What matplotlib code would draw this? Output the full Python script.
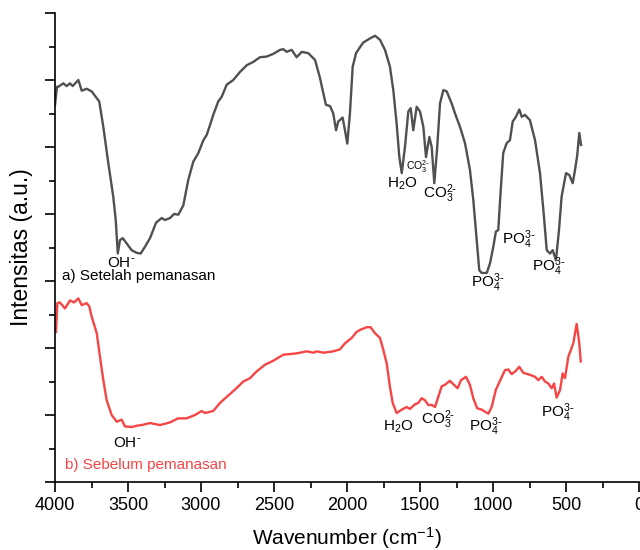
import matplotlib
matplotlib.use("Agg")
import matplotlib.pyplot as plt
from matplotlib.ticker import MultipleLocator

plt.rcParams['font.family'] = ['Liberation Sans', 'DejaVu Sans']
plt.rcParams['mathtext.default'] = 'regular'

# Spectrum a) Setelah pemanasan (after heating)
wn_a = [4000, 3986, 3977, 3943, 3920, 3897, 3879, 3840, 3817, 3783, 3749, 3714, 3697, 3669, 3635,
        3601, 3584, 3570, 3555, 3536, 3509, 3475, 3440, 3413, 3384, 3349, 3308, 3269, 3247, 3212,
        3185, 3155, 3121, 3087, 3053, 3018, 2984, 2961, 2938, 2916, 2882, 2858, 2824, 2779, 2733,
        2687, 2642, 2596, 2550, 2505, 2459, 2436, 2413, 2379, 2345, 2310, 2265, 2219, 2185, 2162,
        2144, 2116, 2094, 2075, 2060, 2030, 2014, 1998, 1980, 1961, 1938, 1911, 1888, 1843, 1808,
        1774, 1740, 1706, 1683, 1660, 1642, 1625, 1603, 1580, 1564, 1546, 1523, 1500, 1477, 1459,
        1436, 1420, 1402, 1382, 1363, 1340, 1317, 1283, 1260, 1226, 1192, 1158, 1135, 1112, 1094,
        1077, 1043, 1021, 998, 980, 964, 947, 930, 906, 884, 865, 843, 820, 803, 781, 747, 712,
        678, 651, 632, 610, 591, 569, 548, 530, 500, 477, 454, 438, 423, 409, 397]
int_a = [5.63, 5.90, 5.90, 5.95, 5.91, 5.95, 5.91, 6.00, 5.84, 5.87, 5.83, 5.73, 5.68, 5.30, 4.76,
         4.26, 3.91, 3.41, 3.61, 3.64, 3.56, 3.46, 3.42, 3.41, 3.51, 3.64, 3.87, 3.94, 3.91, 3.94,
         4.00, 3.99, 4.13, 4.51, 4.78, 4.91, 5.10, 5.18, 5.33, 5.48, 5.68, 5.75, 5.93, 6.00, 6.12,
         6.22, 6.27, 6.34, 6.35, 6.39, 6.45, 6.46, 6.42, 6.45, 6.34, 6.42, 6.40, 6.30, 6.03, 5.80,
         5.63, 5.61, 5.50, 5.25, 5.38, 5.44, 5.25, 5.05, 5.50, 6.20, 6.40, 6.49, 6.56, 6.62, 6.66,
         6.60, 6.45, 6.20, 5.85, 5.35, 4.86, 4.61, 5.00, 5.53, 5.58, 5.25, 5.60, 5.53, 5.30, 4.85,
         5.15, 5.00, 4.46, 5.00, 5.65, 5.85, 5.83, 5.65, 5.50, 5.30, 5.06, 4.66, 4.21, 3.61, 3.16,
         3.12, 3.12, 3.26, 3.51, 3.74, 3.76, 4.36, 4.91, 5.06, 5.10, 5.38, 5.45, 5.56, 5.45, 5.48, 5.40, 5.10,
         4.61, 3.96, 3.46, 3.41, 3.46, 3.31, 3.76, 4.26, 4.61, 4.58, 4.46, 4.66, 4.88, 5.21, 5.03]

# Spectrum b) Sebelum pemanasan (before heating)
wn_b = [3993, 3984, 3966, 3932, 3897, 3870, 3840, 3817, 3783, 3765, 3749, 3714, 3692, 3669, 3646,
        3612, 3577, 3543, 3521, 3475, 3440, 3406, 3349, 3281, 3212, 3156, 3098, 3041, 2995, 2973,
        2916, 2870, 2824, 2767, 2710, 2664, 2619, 2562, 2505, 2436, 2390, 2345, 2276, 2231, 2208,
        2162, 2094, 2048, 2014, 1968, 1934, 1911, 1865, 1838, 1808, 1774, 1751, 1728, 1706, 1687,
        1660, 1625, 1591, 1569, 1534, 1512, 1488, 1466, 1443, 1420, 1397, 1375, 1351, 1329, 1295,
        1272, 1242, 1219, 1185, 1158, 1135, 1108, 1077, 1055, 1032, 1009, 980, 952, 918, 895, 872,
        843, 820, 793, 747, 712, 690, 666, 644, 621, 598, 582, 564, 541, 523, 507, 484, 450, 427,
        409, 399]
int_b = [2.24, 2.67, 2.68, 2.59, 2.71, 2.68, 2.74, 2.64, 2.67, 2.62, 2.47, 2.22, 1.87, 1.52, 1.22,
         1.00, 0.90, 0.93, 0.83, 0.82, 0.84, 0.85, 0.88, 0.85, 0.89, 0.95, 0.95, 1.00, 1.06, 1.03,
         1.06, 1.18, 1.27, 1.38, 1.50, 1.55, 1.65, 1.75, 1.81, 1.90, 1.91, 1.92, 1.95, 1.93, 1.95,
         1.93, 1.95, 1.98, 2.07, 2.15, 2.24, 2.27, 2.31, 2.31, 2.22, 2.15, 1.97, 1.77, 1.42, 1.18,
         1.03, 1.08, 1.12, 1.09, 1.16, 1.18, 1.25, 1.22, 1.15, 1.15, 1.12, 1.27, 1.43, 1.45, 1.51,
         1.46, 1.40, 1.52, 1.57, 1.45, 1.25, 1.10, 1.08, 1.05, 1.02, 1.12, 1.38, 1.51, 1.67, 1.68, 1.61,
         1.66, 1.72, 1.63, 1.60, 1.57, 1.52, 1.57, 1.50, 1.47, 1.40, 1.47, 1.26, 1.37, 1.62, 1.55, 1.87,
         2.07, 2.36, 2.07, 1.80]

x_ticks = [4000, 3500, 3000, 2500, 2000, 1500, 1000, 500, 0]

gray = '#505050'
red = '#f54545'

fig = plt.figure(figsize=(6.4, 5.5), dpi=100)
ax = fig.add_axes([55/640, (550-482)/550, (639-55)/640, (482-13)/550])

ax.plot(wn_a, int_a, color=gray, lw=1.7)
ax.plot(wn_b, int_b, color=red, lw=1.7)

ax.set_xlim(4000, 0)
ax.set_ylim(0, 7)
ax.set_xticks(x_ticks)
ax.set_xticklabels([str(t) for t in x_ticks])
ax.xaxis.set_minor_locator(MultipleLocator(250))
ax.yaxis.set_major_locator(MultipleLocator(1))
ax.yaxis.set_minor_locator(MultipleLocator(0.5))
ax.tick_params(axis='both', which='major', direction='out', length=7, width=1.2, labelsize=13)
ax.tick_params(axis='both', which='minor', direction='out', length=4, width=1.2)
ax.tick_params(axis='y', which='both', labelleft=False)
for s in ['top', 'right']:
    ax.spines[s].set_visible(False)
for s in ['left', 'bottom']:
    ax.spines[s].set_linewidth(1.2)

ax.set_xlabel('Wavenumber (cm$^{-1}$)', fontsize=15, labelpad=8)
ax.set_ylabel('Intensitas (a.u.)', fontsize=16.5)
ax.yaxis.set_label_coords(-0.038, 0.5)

fs = 11
po4 = r'PO$_4^{3\text{-}}$'
co3 = r'CO$_3^{2\text{-}}$'
oh = r'OH$^{\text{-}}$'
h2o = r'H$_2$O'
# annotations for a)
ax.text(3548, 3.27, oh, fontsize=fs, ha='center', va='center')
ax.text(3952, 3.07, 'a) Setelah pemanasan', fontsize=fs, ha='left', va='center', color='black')
ax.text(1623, 4.45, h2o, fontsize=fs, ha='center', va='center')
ax.text(1514, 4.70, co3, fontsize=7.5, ha='center', va='center')
ax.text(1363, 4.31, co3, fontsize=fs, ha='center', va='center')
ax.text(1034, 2.97, po4, fontsize=fs, ha='center', va='center')
ax.text(822, 3.61, po4, fontsize=fs, ha='center', va='center')
ax.text(616, 3.21, po4, fontsize=fs, ha='center', va='center')
# annotations for b)
ax.text(3507, 0.58, oh, fontsize=fs, ha='center', va='center')
ax.text(3932, 0.25, 'b) Sebelum pemanasan', fontsize=fs, ha='left', va='center', color=red)
ax.text(1650, 0.82, h2o, fontsize=fs, ha='center', va='center')
ax.text(1377, 0.93, co3, fontsize=fs, ha='center', va='center')
ax.text(1048, 0.82, po4, fontsize=fs, ha='center', va='center')
ax.text(555, 1.04, po4, fontsize=fs, ha='center', va='center')

fig.savefig('out.png', dpi=100)
